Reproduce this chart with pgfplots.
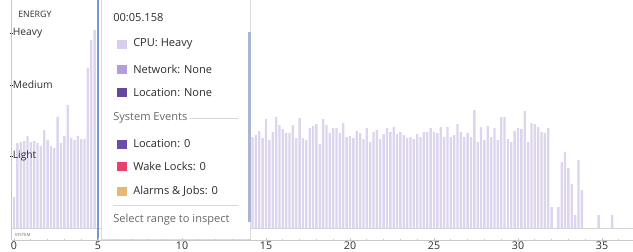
\documentclass[border=0pt]{standalone}
\usepackage{fontspec}
\setmainfont{Open Sans}
\usepackage{pgfplots}
\usepackage{pgfplotstable}
\pgfplotsset{compat=1.18}
\definecolor{barc}{RGB}{221,213,238}
\definecolor{axgray}{RGB}{200,200,204}
\definecolor{txt}{RGB}{45,45,45}
\definecolor{txtgray}{RGB}{105,105,110}
\definecolor{cursorblue}{RGB}{118,150,212}
\definecolor{cpu}{RGB}{215,205,237}
\definecolor{net}{RGB}{179,157,219}
\definecolor{loc}{RGB}{103,73,155}
\definecolor{sysloc}{RGB}{106,78,168}
\definecolor{wake}{RGB}{233,64,110}
\definecolor{alarm}{RGB}{232,183,112}
\definecolor{tipborder}{RGB}{218,218,224}
\definecolor{tipedge}{RGB}{172,180,212}
\definecolor{sepline}{RGB}{215,215,220}

\pgfplotstableread{
t h
0.0 31
0.2 85
0.4 86
0.6 87
0.8 92
1.0 86
1.2 87
1.4 85
1.6 82
1.8 98
2.0 88
2.2 82
2.4 80
2.6 111
2.8 85
3.0 92
3.2 123
3.4 90
3.6 88
3.8 92
4.0 89
4.2 89
4.4 160
4.6 188
4.8 198
14.2 91
14.4 93
14.6 97
14.8 90
15.0 109
15.2 88
15.4 96
15.6 111
15.8 103
16.0 99
16.2 95
16.4 95
16.6 103
16.8 90
17.0 110
17.2 90
17.4 88
17.6 100
17.8 102
18.0 104
18.2 84
18.4 109
18.6 103
18.8 95
19.0 100
19.2 100
19.4 95
19.6 105
19.8 91
20.0 92
20.2 90
20.4 97
20.6 95
20.8 89
21.0 100
21.2 86
21.4 96
21.6 98
21.8 89
22.0 94
22.2 100
22.4 96
22.6 101
22.8 94
23.0 96
23.2 93
23.4 90
23.6 91
23.8 89
24.0 94
24.2 91
24.4 96
24.6 96
24.8 100
25.0 96
25.2 95
25.4 101
25.6 91
25.8 101
26.0 91
26.2 93
26.4 104
26.6 96
26.8 91
27.0 95
27.2 91
27.4 118
27.6 86
27.8 101
28.0 88
28.2 102
28.4 91
28.6 100
28.8 88
29.0 111
29.2 111
29.4 89
29.6 86
29.8 97
30.0 100
30.2 99
30.4 117
30.6 86
30.8 105
31.0 104
31.2 101
31.4 96
31.6 95
31.8 100
32.0 21
32.4 21
32.6 66
32.8 76
33.0 60
33.2 44
33.4 13
33.6 68
33.8 38
34.8 13
35.6 13
}\energydata

\begin{document}
\begin{tikzpicture}
\begin{axis}[
  scale only axis,
  width=465.98pt, height=180pt,
  xmin=-0.137, xmax=36.845,
  ymin=-12, ymax=228,
  clip=false,
  axis on top,
  axis x line*=bottom, axis y line*=left,
  axis line style={draw=axgray, line width=0.6pt, -},
  tick align=center,
  major tick length=2.6pt,
  minor tick length=2pt,
  tick style={draw=axgray, line width=0.6pt},
  xtick={0,5,...,35},
  minor xtick={1,2,3,4,6,7,8,9,11,12,13,14,16,17,18,19,21,22,23,24,26,27,28,29,31,32,33,34,36},
  ytick={72,143,195},
  yticklabels={Light,Medium,Heavy},
  ytick style={draw=txt, line width=0.5pt},
  /pgf/number format/assume math mode=true,
  xticklabel style={font=\fontsize{8}{9}\selectfont, text=txt, inner sep=0pt, anchor=north, yshift=0.3pt},
  yticklabel style={font=\fontsize{7.7}{9}\selectfont, text=txt, inner sep=0pt, anchor=west, xshift=2pt},
]
% baseline and left guide
\draw[axgray!80, line width=0.5pt] (axis cs:-0.137,0) -- (axis cs:36.845,0);
\draw[axgray, line width=0.6pt] (axis cs:-0.137,-12) -- (axis cs:-0.137,228);

\addplot[ybar, bar width=0.14, fill=barc, draw=none] table[x=t, y=h] {\energydata};

% labels
\node[anchor=west, inner sep=0pt, font=\fontsize{6.6}{8}\selectfont, text=txt] at (axis cs:0.24,214) {ENERGY};
\node[anchor=west, inner sep=0pt, font=\fontsize{3.2}{4}\selectfont, text=txtgray] at (axis cs:0.03,-6.5) {SYSTEM};

% cursor
\addplot[cursorblue, line width=1.3pt] coordinates {(4.982,-12) (4.982,236)};

% tooltip
\path[fill=white, draw=tipborder, line width=0.6pt]
  (axis cs:5.179,-11) rectangle (axis cs:14.048,240);
\draw[tipedge, line width=1.6pt] (axis cs:14.02,6) -- (axis cs:14.02,196);

\begin{scope}[every node/.style={anchor=west, inner sep=0pt, font=\fontsize{8.3}{10}\selectfont, text=txt}]
\node[font=\fontsize{8.3}{10}\selectfont] at (axis cs:5.893,210) {00:05.158};
\fill[cpu] (axis cs:6.160,179.5) rectangle (axis cs:6.697,188.5);
\node at (axis cs:7.083,184) {CPU: Heavy};
\fill[net] (axis cs:6.160,154.5) rectangle (axis cs:6.697,163.5);
\node at (axis cs:7.083,159) {Network: None};
\fill[loc] (axis cs:6.160,131) rectangle (axis cs:6.697,140);
\node at (axis cs:7.083,135.5) {Location: None};
\node[text=txtgray] at (axis cs:5.893,110) {System Events};
\draw[sepline, line width=0.5pt] (axis cs:10.476,110) -- (axis cs:13.333,110);
\fill[sysloc] (axis cs:6.160,79.5) rectangle (axis cs:6.697,88.5);
\node at (axis cs:7.083,84) {Location: 0};
\fill[wake] (axis cs:6.160,57) rectangle (axis cs:6.697,66);
\node at (axis cs:7.083,61.5) {Wake Locks: 0};
\fill[alarm] (axis cs:6.160,32.5) rectangle (axis cs:6.697,41.5);
\node at (axis cs:7.083,37) {Alarms \& Jobs: 0};
\draw[sepline, line width=0.5pt] (axis cs:5.893,23) -- (axis cs:13.333,23);
\node[text=txtgray] at (axis cs:5.893,8) {Select range to inspect};
\end{scope}

\coordinate (BL) at (axis cs:-0.833,-23);
\coordinate (TR) at (axis cs:36.845,228);
\end{axis}
\pgfresetboundingbox
\useasboundingbox (BL) rectangle (TR);
\end{tikzpicture}
\end{document}
